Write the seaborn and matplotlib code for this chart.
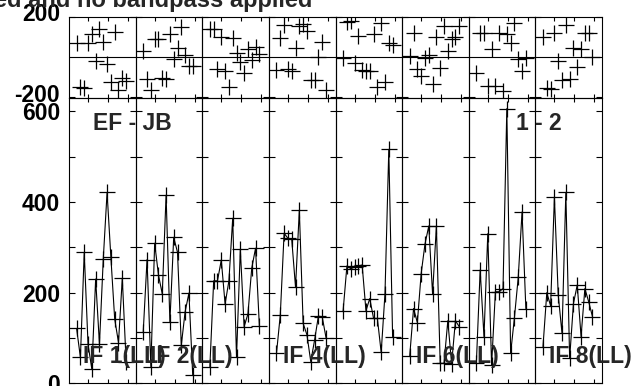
import matplotlib
matplotlib.use('Agg')
import matplotlib.pyplot as plt
import matplotlib.transforms as mtransforms
import seaborn as sns

sns.set_style('ticks')
plt.rcParams['font.family'] = ['Liberation Sans', 'DejaVu Sans']
plt.rcParams['font.weight'] = 'bold'
plt.rcParams['axes.unicode_minus'] = False

# channel numbers inside each IF
channels = list(range(1, 15))

# amplitude per IF
amp_if1 = [121, 57, 289, 86, 31, 230, 86, 274, 421, 278, 142, 90, 232, 48]
amp_if2 = [114, 273, 37, 309, 239, 197, 415, 136, 322, 289, 84, 158, 199, 18]
amp_if3 = [37, 226, 226, 272, 175, 226, 364, 57, 296, 125, 153, 254, 298, 127]
amp_if4 = [66, 151, 331, 320, 318, 212, 382, 132, 107, 48, 95, 148, 147, 101]
amp_if5 = [160, 259, 253, 256, 259, 261, 160, 187, 143, 143, 68, 198, 516, 103]
amp_if6 = [61, 165, 134, 242, 307, 347, 197, 347, 44, 44, 138, 43, 138, 125]
amp_if7 = [45, 250, 103, 330, 40, 202, 202, 209, 606, 66, 145, 234, 378, 165]
amp_if8 = [81, 200, 171, 411, 195, 110, 421, 55, 176, 217, 103, 209, 180, 147]

# phase per IF (degrees)
phase_if1 = [70, -150, -155, 70, 115, -18, 140, 78, -35, -122, 125, -163, -105, -118]
phase_if2 = [33, -108, -163, 90, 91, -102, -108, 115, -10, 45, 153, 11, -43, -42]
phase_if3 = [140, 140, -60, 100, -68, -150, 95, 23, -22, -77, 40, -13, 53, 17]
phase_if4 = [-63, 95, 160, -60, -67, 45, 157, 165, 133, -113, -113, 0, 75, -163]
phase_if5 = [-5, 175, 180, -30, 105, -63, -68, -70, 117, -150, 170, -122, 70, 60]
phase_if6 = [7, 120, -60, -93, -5, 11, -133, 100, -55, 157, 33, 90, 100, 157]
phase_if7 = [-80, 123, 123, -143, 40, -143, 123, -167, 117, 70, 173, -10, -67, -5]
phase_if8 = [103, -155, -160, 120, -18, -113, 162, -110, 45, -47, 40, 123, 123, 3]

amps = [amp_if1, amp_if2, amp_if3, amp_if4, amp_if5, amp_if6, amp_if7, amp_if8]
phases = [phase_if1, phase_if2, phase_if3, phase_if4, phase_if5, phase_if6, phase_if7, phase_if8]
if_labels = ['IF 1(LL)', 'IF 2(LL)', '', 'IF 4(LL)', '', 'IF 6(LL)', '', 'IF 8(LL)']

W, H = 636, 386
fig = plt.figure(figsize=(W / 100, H / 100), dpi=100)

left, right = 69, 602
pw = (right - left) / 8
ph_top, ph_bot = 17.3, 97.5
am_top, am_bot = 97.5, 383.3
fs = 16.5

for i in range(8):
    x0 = (left + i * pw) / W
    axp = fig.add_axes([x0, (H - ph_bot) / H, pw / W, (ph_bot - ph_top) / H])
    axa = fig.add_axes([x0, (H - am_bot) / H, pw / W, (am_bot - am_top) / H])

    sns.scatterplot(x=channels, y=phases[i], ax=axp, marker='+', s=120,
                    color='black', linewidth=0.9)
    axp.axhline(0, color='black', lw=0.8)
    axp.set_ylim(-200, 200)
    axp.set_yticks([-200, 200])

    sns.lineplot(x=channels, y=amps[i], ax=axa, color='black', linewidth=0.8,
                 marker='+', markersize=11, markeredgewidth=0.9,
                 markeredgecolor='black')
    axa.set_ylim(0, 630.5)
    axa.set_yticks(range(0, 601, 100))
    axa.set_yticklabels([str(v) if v % 200 == 0 else '' for v in range(0, 601, 100)])

    for ax in (axp, axa):
        ax.set_xlim(-1.0, 16.5)
        ax.set_xticks([4, 9.25, 14.5])
        ax.set_xlabel('')
        ax.set_ylabel('')
        ax.set_facecolor('none')
        ax.tick_params(direction='in', top=True, right=True, labelbottom=False,
                       labelleft=(i == 0), labelsize=fs, pad=6.5, colors='black')
        ax.tick_params(axis='x', length=3, width=0.8)
        ax.tick_params(axis='y', length=4.3, width=0.8)
        for sp in ax.spines.values():
            sp.set_color('black')
            sp.set_linewidth(0.8)

    if i == 0:
        # phase labels sit a little higher than their ticks
        shift = mtransforms.ScaledTranslation(0, 5 / 100, fig.dpi_scale_trans)
        for lab in axp.get_yticklabels():
            lab.set_transform(lab.get_transform() + shift)

    if if_labels[i]:
        fig.text((left + i * pw + 14) / W, 1 - 357 / H, if_labels[i],
                 fontsize=fs, weight='bold', ha='left', va='center', zorder=10)

fig.text(132.7 / W, 1 - 123.3 / H, 'EF - JB', fontsize=fs, weight='bold',
         ha='center', va='center')
fig.text(539 / W, 1 - 123.3 / H, '1 - 2', fontsize=fs, weight='bold',
         ha='center', va='center')
fig.text(312 / W, 1 - 7.5 / H, 'Calibrated and no bandpass applied',
         fontsize=17, weight='bold', ha='right', va='baseline')

fig.savefig('out.png', dpi=100)
